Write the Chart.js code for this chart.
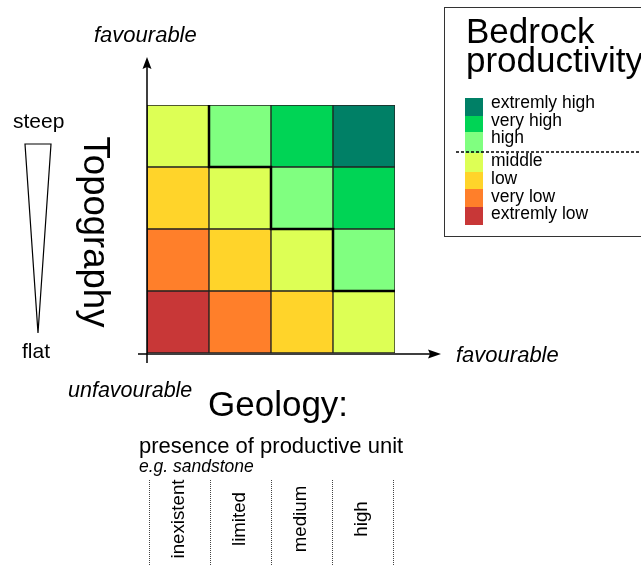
<!DOCTYPE html>
<html>
<head>
<meta charset="utf-8">
<style>
html,body{margin:0;padding:0;background:#fff;}
#c{display:block;}
</style>
<script src="https://cdn.jsdelivr.net/npm/chart.js@4.4.0/dist/chart.umd.min.js"></script>
</head>
<body>
<canvas id="c" width="641" height="565"></canvas>
<script>
// Geology categories (x) and topography rows (bottom -> top)
const geologyLabels = ['inexistent', 'limited', 'medium', 'high'];
const topographyRows = ['row1', 'row2', 'row3', 'row4'];
// productivity class per cell, rows bottom -> top, columns left -> right
// 1 = extremly low ... 7 = extremly high
const row1 = [1, 2, 3, 4];
const row2 = [2, 3, 4, 5];
const row3 = [3, 4, 5, 6];
const row4 = [4, 5, 6, 7];
const classRows = [row1, row2, row3, row4];
// legend (top -> bottom)
const legendLabels = ['extremly high', 'very high', 'high', 'middle', 'low', 'very low', 'extremly low'];
const legendClasses = [7, 6, 5, 4, 3, 2, 1];
const classColors = {1: '#c83737', 2: '#ff7f2a', 3: '#ffd42a', 4: '#ddff55', 5: '#80ff80', 6: '#00d455', 7: '#008066'};

const FONT = '"Liberation Sans", Arial, sans-serif';

const datasets = classRows.map((r, i) => ({
  label: topographyRows[i],
  data: r.map(() => 1),
  backgroundColor: r.map(v => classColors[v]),
  borderColor: '#222',
  borderWidth: 1,
  borderSkipped: false,
  barPercentage: 1,
  categoryPercentage: 1
}));

const deco = {
  id: 'deco',
  afterDraw(chart) {
    const ctx = chart.ctx;
    const ca = chart.chartArea;
    const ys = chart.scales.y;
    const cw = (ca.right - ca.left) / geologyLabels.length;
    const colL = i => ca.left + i * cw;
    ctx.save();
    // staircase boundary between high and middle classes
    ctx.save();
    ctx.beginPath();
    ctx.rect(ca.left, ca.top, ca.right - ca.left, ca.bottom - ca.top);
    ctx.clip();
    ctx.strokeStyle = '#000';
    ctx.lineWidth = 2.5;
    ctx.lineCap = 'square';
    ctx.beginPath();
    for (let r = 0; r < classRows.length; r++) {
      for (let c = 0; c < geologyLabels.length; c++) {
        const v = classRows[r][c];
        if (v >= 5) {
          if (c > 0 && classRows[r][c - 1] <= 4) {
            ctx.moveTo(colL(c), ys.getPixelForValue(r));
            ctx.lineTo(colL(c), ys.getPixelForValue(r + 1));
          }
          if (r > 0 && classRows[r - 1][c] <= 4) {
            ctx.moveTo(colL(c), ys.getPixelForValue(r));
            ctx.lineTo(colL(c + 1), ys.getPixelForValue(r));
          }
        }
      }
    }
    ctx.stroke();
    ctx.restore();

    // axes
    ctx.strokeStyle = '#000';
    ctx.lineWidth = 1.5;
    ctx.lineCap = 'butt';
    ctx.beginPath();
    ctx.moveTo(ca.left, ca.bottom + 10);
    ctx.lineTo(ca.left, 66);
    ctx.moveTo(ca.left - 9, ca.bottom + 1);
    ctx.lineTo(432, ca.bottom + 1);
    ctx.stroke();
    ctx.fillStyle = '#000';
    ctx.beginPath();
    ctx.moveTo(ca.left, 57);
    ctx.lineTo(ca.left - 4.5, 69);
    ctx.lineTo(ca.left, 67);
    ctx.lineTo(ca.left + 4.5, 69);
    ctx.closePath();
    ctx.fill();
    ctx.beginPath();
    ctx.moveTo(441, ca.bottom + 1);
    ctx.lineTo(428, ca.bottom + 1 - 4.5);
    ctx.lineTo(430, ca.bottom + 1);
    ctx.lineTo(428, ca.bottom + 1 + 4.5);
    ctx.closePath();
    ctx.fill();

    // texts
    ctx.fillStyle = '#000';
    ctx.textBaseline = 'alphabetic';
    ctx.textAlign = 'left';
    ctx.font = 'italic 22px ' + FONT;
    ctx.fillText('favourable', 94, 42);
    ctx.fillText('favourable', 456, 362);
    ctx.font = 'italic 21.5px ' + FONT;
    ctx.fillText('unfavourable', 68, 397);
    ctx.font = '35px ' + FONT;
    ctx.fillText('Geology:', 208, 416);
    ctx.font = '22px ' + FONT;
    ctx.fillText('presence of productive unit', 139, 453);
    ctx.font = 'italic 17.5px ' + FONT;
    ctx.fillText('e.g. sandstone', 139, 471.5);
    ctx.font = '21px ' + FONT;
    ctx.fillText('steep', 13, 128);
    ctx.fillText('flat', 22, 358);

    // Topography rotated
    ctx.save();
    ctx.translate(84, 232);
    ctx.rotate(Math.PI / 2);
    ctx.font = '36.5px ' + FONT;
    ctx.textAlign = 'center';
    ctx.fillText('Topography', 0, 0);
    ctx.restore();

    // triangle
    ctx.lineWidth = 1.2;
    ctx.strokeStyle = '#000';
    ctx.beginPath();
    ctx.moveTo(25, 144);
    ctx.lineTo(51, 144);
    ctx.lineTo(38, 333);
    ctx.closePath();
    ctx.stroke();

    // column labels
    const colStep = 61;
    ctx.setLineDash([1, 1]);
    ctx.lineWidth = 1;
    ctx.strokeStyle = '#444';
    ctx.beginPath();
    for (let i = 0; i <= geologyLabels.length; i++) {
      const x = ca.left + 2.5 + i * colStep;
      ctx.moveTo(x, 480);
      ctx.lineTo(x, 565);
    }
    ctx.stroke();
    ctx.setLineDash([]);
    ctx.font = '18.7px ' + FONT;
    geologyLabels.forEach((lab, i) => {
      ctx.save();
      ctx.translate(ca.left + 37 + i * colStep, 519);
      ctx.rotate(-Math.PI / 2);
      ctx.textAlign = 'center';
      ctx.textBaseline = 'alphabetic';
      ctx.fillText(lab, 0, 0);
      ctx.restore();
    });

    // legend
    ctx.lineWidth = 1;
    ctx.strokeStyle = '#333';
    ctx.strokeRect(444.5, 7.5, 300, 229);
    ctx.font = '35px ' + FONT;
    ctx.textAlign = 'left';
    ctx.fillText('Bedrock', 466, 43);
    ctx.fillText('productivity', 466, 72);
    ctx.font = '17.5px ' + FONT;
    const tops = [98, 116, 132, 153, 172, 189, 207, 225];
    const bases = [108, 126, 143, 166, 184, 202, 219];
    legendLabels.forEach((lab, i) => {
      ctx.fillStyle = classColors[legendClasses[i]];
      ctx.fillRect(465, tops[i], 18, tops[i + 1] - tops[i]);
      ctx.fillStyle = '#000';
      ctx.fillText(lab, 491, bases[i]);
    });
    ctx.setLineDash([3, 2]);
    ctx.lineWidth = 1.5;
    ctx.strokeStyle = '#000';
    ctx.beginPath();
    ctx.moveTo(456, 152);
    ctx.lineTo(641, 152);
    ctx.stroke();
    ctx.setLineDash([]);
    ctx.restore();
  }
};

new Chart(document.getElementById('c'), {
  type: 'bar',
  data: { labels: geologyLabels, datasets },
  options: {
    responsive: false,
    animation: false,
    layout: { padding: { left: 147, top: 105, right: 246, bottom: 212 } },
    plugins: { legend: { display: false }, tooltip: { enabled: false }, title: { display: false } },
    scales: {
      x: { display: false, stacked: true },
      y: { display: false, stacked: true, min: 0, max: 4 }
    }
  },
  plugins: [deco]
});
</script>
</body>
</html>
